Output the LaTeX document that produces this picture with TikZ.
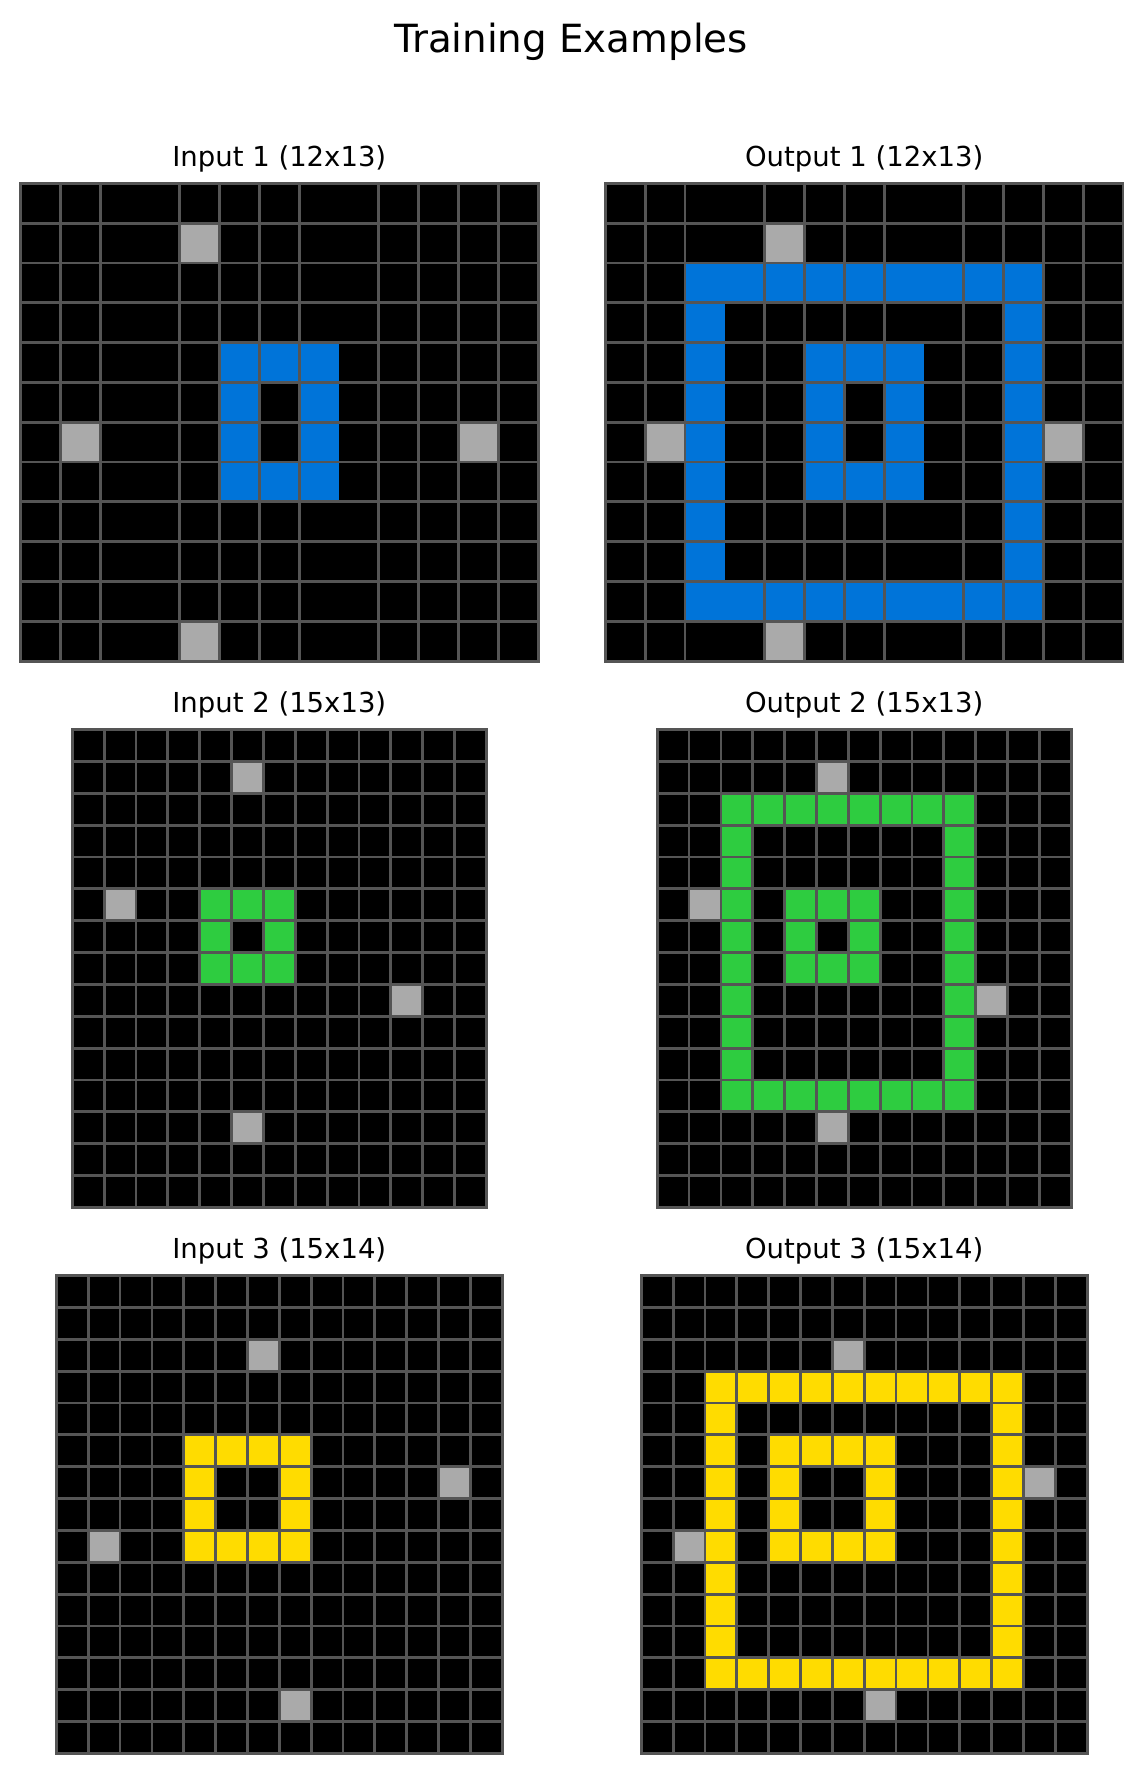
\documentclass[tikz,border=0pt]{standalone}
\usepackage{fontspec}
\setmainfont{DejaVu Sans}
\usepackage{tikz}
\usetikzlibrary{positioning}
\definecolor{arcblue}{HTML}{0074D9}
\definecolor{arcgreen}{HTML}{2ECC40}
\definecolor{arcyellow}{HTML}{FFDC00}
\definecolor{arcgray}{HTML}{AAAAAA}
\definecolor{gridline}{HTML}{555555}
\tikzset{
  cellgrid/.style={draw=gridline, line width=1.4pt},
  paneltitle/.style={font=\fontsize{13.75}{16}\selectfont, anchor=base},
}

\begin{document}
\begin{tikzpicture}[x=0.5pt, y=-0.5pt]
\useasboundingbox (0,0) rectangle (1142,1773);
\node[font=\fontsize{19.4}{23}\selectfont, anchor=base] (title) at (571,52) {Training Examples};
\node[paneltitle] (in1) at (279.3,166.5) {Input 1 (12x13)};
\node[paneltitle] (out1) at (864.2,166.5) {Output 1 (12x13)};
\node[paneltitle] (in2) at (279.3,712.8) {Input 2 (15x13)};
\node[paneltitle] (out2) at (864.2,712.8) {Output 2 (15x13)};
\node[paneltitle] (in3) at (279.3,1258.8) {Input 3 (15x14)};
\node[paneltitle] (out3) at (864.2,1258.8) {Output 3 (15x14)};

\foreach \gx in {20.5,605.4} {
\begin{scope}[shift={(\gx,183.3)}, x=19.91pt, y=-19.91pt]
  \fill[black] (0,0) rectangle (13,12);
  \foreach \c/\r in {4/1,4/11,1/6,11/6} \fill[arcgray] (\c,\r) rectangle ++(1,1);
  \ifdim\gx pt>100pt
    \fill[arcblue] (2,2) rectangle (11,11);
    \fill[black] (3,3) rectangle (10,10);
  \fi
  \fill[arcblue] (5,4) rectangle (8,8);
  \fill[black] (6,5) rectangle (7,7);
  \foreach \r in {1,...,11} \draw[cellgrid] (0,\r) -- (13,\r);
  \foreach \c in {1,2,4,5,6,7,9,10,11,12} \draw[cellgrid] (\c,0) -- (\c,12);
  \draw[cellgrid] (0,0) rectangle (13,12);
\end{scope}
}

\foreach \gx in {72.3,657.2} {
\begin{scope}[shift={(\gx,729.6)}, x=15.925pt, y=-15.925pt]
  \fill[black] (0,0) rectangle (13,15);
  \foreach \c/\r in {5/1,1/5,10/8,5/12} \fill[arcgray] (\c,\r) rectangle ++(1,1);
  \ifdim\gx pt>100pt
    \fill[arcgreen] (2,2) rectangle (10,12);
    \fill[black] (3,3) rectangle (9,11);
  \fi
  \fill[arcgreen] (4,5) rectangle (7,8);
  \fill[black] (5,6) rectangle (6,7);
  \foreach \r in {1,...,14} \draw[cellgrid] (0,\r) -- (13,\r);
  \foreach \c in {1,...,12} \draw[cellgrid] (\c,0) -- (\c,15);
  \draw[cellgrid] (0,0) rectangle (13,15);
\end{scope}
}

\foreach \gx in {56.35,641.25} {
\begin{scope}[shift={(\gx,1275.6)}, x=15.925pt, y=-15.925pt]
  \fill[black] (0,0) rectangle (14,15);
  \foreach \c/\r in {6/2,12/6,1/8,7/13} \fill[arcgray] (\c,\r) rectangle ++(1,1);
  \ifdim\gx pt>100pt
    \fill[arcyellow] (2,3) rectangle (12,13);
    \fill[black] (3,4) rectangle (11,12);
  \fi
  \fill[arcyellow] (4,5) rectangle (8,9);
  \fill[black] (5,6) rectangle (7,8);
  \foreach \r in {1,...,14} \draw[cellgrid] (0,\r) -- (14,\r);
  \foreach \c in {1,...,13} \draw[cellgrid] (\c,0) -- (\c,15);
  \draw[cellgrid] (0,0) rectangle (14,15);
\end{scope}
}
\end{tikzpicture}
\end{document}
